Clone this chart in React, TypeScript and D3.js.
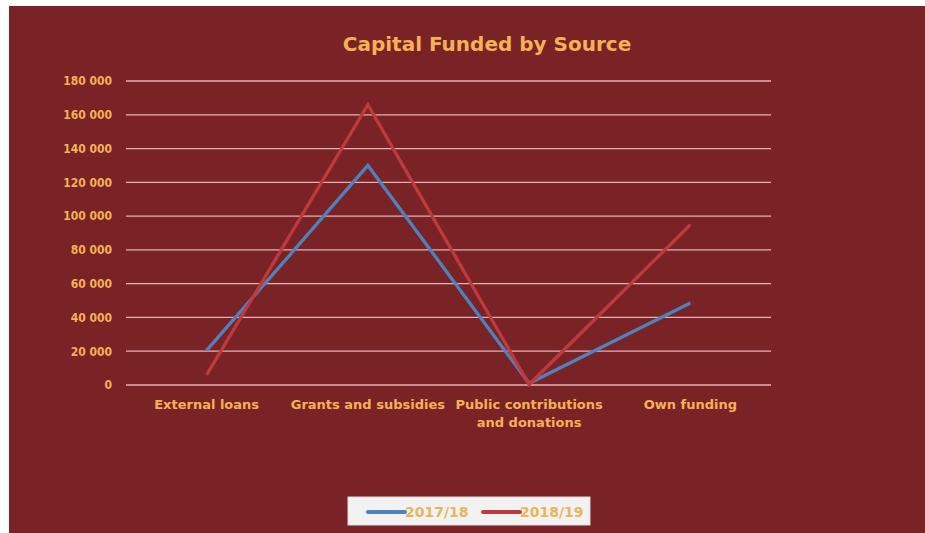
import React from "react";
import * as d3 from "d3";

const categories = [
  ["External loans"],
  ["Grants and subsidies"],
  ["Public contributions", "and donations"],
  ["Own funding"],
];
const seriesNames = ["2017/18", "2018/19"];
const values2017 = [20500, 130000, 1000, 48500];
const values2018 = [6000, 166000, 300, 95000];
const yTicks = [0, 20000, 40000, 60000, 80000, 100000, 120000, 140000, 160000, 180000];

const W = 925;
const H = 533;
const BG = "#7a2327";
const TEXT = "#f4b255";
const COLORS = ["#4f81bd", "#c0393c"];
const FONT = "Tahoma, 'DejaVu Sans', Verdana, sans-serif";
const TICK_FONT = "'DejaVu Sans Condensed', 'DejaVu Sans', sans-serif";

export default function App() {
  const plot = { left: 126, right: 771, top: 81, bottom: 385 };
  const x = d3
    .scaleBand<number>()
    .domain(d3.range(categories.length))
    .range([plot.left, plot.right]);
  const y = d3.scaleLinear().domain([0, 180000]).range([plot.bottom, plot.top]);
  const fmt = (v: number) => d3.format(",")(v).replace(/,/g, " ");
  const cx = (i: number) => (x(i) as number) + x.bandwidth() / 2;
  const line = d3
    .line<number>()
    .x((_, i) => cx(i))
    .y((v) => y(v));
  const series = [values2017, values2018];

  return (
    <svg
      width={W}
      height={H}
      style={{ position: "absolute", left: 0, top: 0, display: "block" }}
      fontFamily={FONT}
    >
      <rect x={0} y={0} width={W} height={H} fill="#ffffff" />
      <rect x={9} y={6} width={W - 9} height={H - 6} fill={BG} />
      <text
        x={487}
        y={51}
        textAnchor="middle"
        fill={TEXT}
        fontSize={20}
        fontWeight="bold"
      >
        Capital Funded by Source
      </text>
      {yTicks.map((t) => (
        <g key={t}>
          <line
            x1={plot.left}
            x2={plot.right}
            y1={y(t)}
            y2={y(t)}
            stroke="#e3b3b3"
            strokeWidth={1.3}
          />
          <text
            x={112}
            y={y(t)}
            dy="0.36em"
            textAnchor="end"
            fill={TEXT}
            fontSize={12}
            fontWeight="bold"
            fontFamily={TICK_FONT}
          >
            {fmt(t)}
          </text>
        </g>
      ))}
      {categories.map((lines, i) => (
        <text
          key={i}
          x={cx(i)}
          y={409}
          textAnchor="middle"
          fill={TEXT}
          fontSize={13}
          fontWeight="bold"
        >
          {lines.map((l, j) => (
            <tspan key={j} x={cx(i)} dy={j === 0 ? 0 : 18}>
              {l}
            </tspan>
          ))}
        </text>
      ))}
      {series.map((s, k) => (
        <path
          key={k}
          d={line(s) || ""}
          fill="none"
          stroke={COLORS[k]}
          strokeWidth={3.3}
          strokeLinejoin="miter"
        />
      ))}
      <rect x={348} y={497} width={242} height={28} fill="#f2f2f2" stroke="#dcdcdc" />
      {seriesNames.map((n, k) => {
        const lx = k === 0 ? 368 : 483;
        return (
          <g key={n}>
            <line
              x1={lx}
              x2={lx + 37}
              y1={512}
              y2={512}
              stroke={COLORS[k]}
              strokeWidth={4}
              strokeLinecap="round"
            />
            <text
              x={lx + 37}
              y={512}
              dy="0.36em"
              fill="#e9b45c"
              fontSize={14}
              fontWeight="bold"
            >
              {n}
            </text>
          </g>
        );
      })}
    </svg>
  );
}
